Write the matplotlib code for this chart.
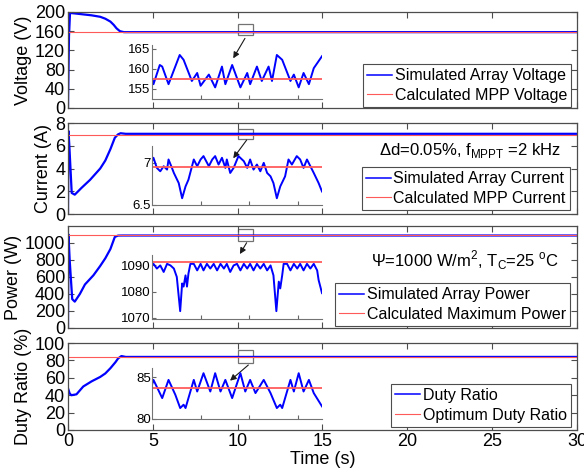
import matplotlib
matplotlib.use("Agg")
import matplotlib.pyplot as plt
from matplotlib.patches import Rectangle

plt.rcParams['font.family'] = ['Liberation Sans', 'DejaVu Sans']
plt.rcParams['mathtext.fontset'] = 'custom'
plt.rcParams['mathtext.rm'] = 'Liberation Sans'

# ---- main traces (time in s) ----
t_volt = [0, 0.06, 0.12, 0.4, 0.9, 1.4, 1.9, 2.2, 2.5, 2.7, 2.86, 3.06, 3.3, 30]
volt = [0, 150, 198, 197, 195, 193, 190, 186, 180, 173, 166, 160, 158, 158]
v_mpp = 157.5

t_curr = [0, 0.03, 0.08, 0.22, 0.4, 0.8, 1.3, 1.9, 2.2, 2.5, 2.76, 2.95, 3.1, 3.4, 30]
curr = [0, 7.3, 6.0, 1.85, 1.7, 2.3, 3.0, 4.0, 4.7, 5.7, 6.7, 7.0, 7.1, 7.05, 7.05]
i_mpp = 6.95

t_pow = [0, 0.03, 0.1, 0.25, 0.4, 0.7, 1.0, 1.5, 1.9, 2.2, 2.5, 2.76, 2.95, 3.2, 30]
pow_ = [0, 1100, 800, 340, 310, 400, 512, 620, 730, 820, 929, 1071, 1087, 1088, 1088]
p_max = 1091.5

t_duty = [0, 0.1, 0.2, 0.5, 0.9, 1.4, 1.9, 2.2, 2.5, 2.8, 2.96, 3.15, 3.4, 30]
duty = [48, 42, 40, 41, 50, 56, 61, 65, 71, 78, 82.4, 85, 84, 84]
d_opt = 83.7

# ---- zoomed windows (time in s from window start) ----
ins_t_v = [0.000, 0.003, 0.016, 0.021, 0.034, 0.057, 0.065, 0.082, 0.093, 0.100, 0.117,
           0.130, 0.144, 0.151, 0.165, 0.182, 0.196, 0.202, 0.216, 0.226, 0.240, 0.247,
           0.257, 0.268, 0.285, 0.292, 0.302, 0.312, 0.323, 0.333, 0.350]
ins_v = [157.8, 156.2, 161.0, 160.6, 156.2, 163.5, 162.3, 157.0, 159.0, 155.8, 158.6,
         155.4, 160.6, 156.2, 161.0, 155.4, 159.0, 156.2, 160.6, 157.0, 160.6, 157.0,
         163.5, 162.3, 157.0, 158.6, 155.4, 159.0, 156.2, 160.2, 163.2]

ins_t_i = [0.000, 0.003, 0.010, 0.017, 0.024, 0.031, 0.034, 0.041, 0.045, 0.055, 0.062,
           0.069, 0.075, 0.086, 0.093, 0.100, 0.106, 0.117, 0.124, 0.130, 0.137, 0.144,
           0.151, 0.154, 0.161, 0.168, 0.178, 0.189, 0.196, 0.202, 0.209, 0.216, 0.223,
           0.230, 0.237, 0.244, 0.250, 0.257, 0.264, 0.274, 0.281, 0.288, 0.298, 0.305,
           0.312, 0.319, 0.326, 0.333, 0.343, 0.350]
ins_i = [7.02, 7.06, 6.94, 6.90, 6.96, 6.92, 7.04, 6.94, 6.88, 6.76, 6.58,
         6.72, 6.80, 7.04, 6.96, 7.04, 7.08, 6.96, 7.04, 7.08, 6.98, 7.06,
         6.94, 7.04, 6.88, 6.94, 7.08, 7.02, 6.94, 7.04, 6.92, 6.98, 6.90,
         7.00, 6.88, 6.84, 6.76, 6.58, 6.72, 6.84, 7.04, 6.98, 7.08, 7.04,
         6.94, 7.04, 6.96, 6.88, 6.76, 6.66]

ins_t_p = [0.000, 0.003, 0.010, 0.017, 0.024, 0.031, 0.038, 0.045, 0.051, 0.058, 0.062,
           0.065, 0.069, 0.072, 0.075, 0.079, 0.086, 0.093, 0.100, 0.106, 0.113, 0.120,
           0.127, 0.134, 0.141, 0.148, 0.154, 0.161, 0.168, 0.175, 0.182, 0.189, 0.196,
           0.202, 0.209, 0.216, 0.223, 0.230, 0.237, 0.244, 0.250, 0.256, 0.261, 0.264,
           0.268, 0.271, 0.278, 0.285, 0.292, 0.299, 0.305, 0.312, 0.319, 0.326, 0.333,
           0.340, 0.343, 0.350]
ins_p = [1090.0, 1090.6, 1088.8, 1090.0, 1087.5, 1090.6, 1090.0, 1088.8, 1085.6, 1072.5, 1083.1,
         1081.9, 1086.2, 1081.9, 1086.9, 1090.6, 1090.6, 1088.1, 1090.6, 1088.1, 1090.6, 1088.8,
         1090.6, 1088.1, 1090.6, 1088.8, 1090.6, 1087.5, 1090.0, 1090.6, 1088.1, 1090.6, 1088.8,
         1090.6, 1088.1, 1090.6, 1088.8, 1090.6, 1088.1, 1090.0, 1086.2, 1072.5, 1083.8, 1081.2,
         1086.2, 1090.6, 1090.6, 1088.1, 1090.6, 1088.8, 1090.6, 1088.1, 1090.6, 1088.8, 1090.6,
         1088.1, 1084.4, 1079.4]

ins_t_d = [0.000, 0.003, 0.021, 0.034, 0.048, 0.058, 0.065, 0.069, 0.086, 0.093, 0.106,
           0.120, 0.130, 0.141, 0.151, 0.165, 0.182, 0.192, 0.202, 0.213, 0.230, 0.244,
           0.257, 0.264, 0.268, 0.285, 0.292, 0.302, 0.312, 0.323, 0.333, 0.350]
ins_d = [84.09, 84.68, 82.50, 84.68, 82.90, 81.31, 81.71, 81.31, 84.68, 83.29, 85.48,
         83.29, 85.48, 83.29, 84.68, 82.50, 85.48, 83.29, 84.68, 83.10, 84.68, 83.10,
         81.31, 81.71, 81.31, 84.68, 83.29, 85.48, 83.29, 84.68, 83.10, 81.51]

panels = [
    dict(t=t_volt, y=volt, ref=v_mpp, ylim=(0, 200), yticks=range(0, 201, 40), ylabel='Voltage (V)',
         labels=('Simulated Array Voltage', 'Calculated MPP Voltage'),
         pos=[0.1164, 0.7712, 0.8716, 0.2034], leg=(0.988, 0.01),
         it=ins_t_v, iy=ins_v, ipos=[0.2603, 0.7903, 0.2911, 0.1144], iylim=(152.5, 166),
         iyticks=[155, 160, 165], iylabels=['155', '160', '165'],
         box=(10.0, 152, 0.9, 23), arrow=((10.43, 145), (9.74, 103.5)), note=None),
    dict(t=t_curr, y=curr, ref=i_mpp, ylim=(0, 8), yticks=range(0, 9, 2), ylabel='Current (A)',
         labels=('Simulated Array Current', 'Calculated MPP Current'),
         pos=[0.1164, 0.5466, 0.8716, 0.1928], leg=(0.986, 0.044),
         it=ins_t_i, iy=ins_i, ipos=[0.2603, 0.5657, 0.2911, 0.125], iylim=(6.5, 7.2),
         iyticks=[6.5, 7], iylabels=['6.5', '7'],
         box=(10.0, 6.62, 0.9, 0.88), arrow=((10.53, 6.5), (9.74, 4.9)),
         note=('Δd=0.05%, f$_\\mathregular{MPPT}$ =2 kHz', 0.968, 0.648)),
    dict(t=t_pow, y=pow_, ref=p_max, ylim=(0, 1200), yticks=range(0, 1001, 200), ylabel='Power (W)',
         labels=('Simulated Array Power', 'Calculated Maximum Power'),
         pos=[0.1164, 0.3051, 0.8716, 0.2161], leg=(0.986, 0.02),
         it=ins_t_p, iy=ins_p, ipos=[0.2603, 0.3242, 0.2911, 0.1356], iylim=(1069.5, 1094),
         iyticks=[1070, 1080, 1090], iylabels=['1070', '1080', '1090'],
         box=(10.0, 1024, 0.9, 143), arrow=((10.53, 1003), (10.13, 870)),
         note=('Ψ=1000 W/m$^\\mathregular{2}$, T$_\\mathregular{C}$=25 $^\\mathregular{o}$C', 0.966, 0.601)),
    dict(t=t_duty, y=duty, ref=d_opt, ylim=(0, 100), yticks=range(0, 101, 20), ylabel='Duty Ratio (%)',
         labels=('Duty Ratio', 'Optimum Duty Ratio'),
         pos=[0.1164, 0.0890, 0.8716, 0.1843], leg=(0.988, 0.038),
         it=ins_t_d, iy=ins_d, ipos=[0.2603, 0.1123, 0.2911, 0.108], iylim=(80, 86.1),
         iyticks=[80, 85], iylabels=['80', '85'],
         box=(10.0, 77.4, 0.9, 14.6), arrow=((10.63, 74.7), (9.55, 56.7)), note=None),
]

fig = plt.figure(figsize=(5.84, 4.72), dpi=100)
spine_c = '0.3'

for k, p in enumerate(panels):
    ax = fig.add_axes(p['pos'])
    ax.plot(p['t'], p['y'], color='blue', lw=1.6, label=p['labels'][0])
    ax.plot([0, 30], [p['ref'], p['ref']], color='#ff5a5a', lw=0.8, label=p['labels'][1])
    ax.set_xlim(0, 30)
    ax.set_ylim(*p['ylim'])
    ax.set_xticks(range(0, 31, 5))
    ax.set_yticks(list(p['yticks']))
    ax.tick_params(direction='in', length=4, top=True, right=True, labelsize=13,
                   color=spine_c, pad=2)
    for s in ax.spines.values():
        s.set_color(spine_c)
        s.set_linewidth(0.9)
    ax.set_ylabel(p['ylabel'], fontsize=13, labelpad=2)
    if k < 3:
        ax.tick_params(labelbottom=False)
    else:
        ax.set_xlabel('Time (s)', fontsize=13, labelpad=1)
    leg = ax.legend(loc='lower right', bbox_to_anchor=p['leg'], borderaxespad=0,
                    fancybox=False, edgecolor=spine_c, framealpha=1, fontsize=11.5,
                    handlelength=1.6, handletextpad=0.15, borderpad=0.25,
                    labelspacing=0.3)
    leg.get_frame().set_linewidth(0.8)
    leg.get_lines()[0].set_linewidth(1.1)
    if p['note']:
        ax.text(p['note'][1], p['note'][2], p['note'][0], transform=ax.transAxes,
                ha='right', va='baseline', fontsize=12)
    bx = p['box']
    ax.add_patch(Rectangle((bx[0], bx[1]), bx[2], bx[3], fill=False,
                           edgecolor='0.45', lw=0.9))
    (sx, sy), (ex, ey) = p['arrow']
    ax.annotate('', xy=(ex, ey), xytext=(sx, sy),
                arrowprops=dict(arrowstyle='-|>', color='0.1', lw=0.8,
                                mutation_scale=9, shrinkA=0, shrinkB=0))

    ia = fig.add_axes(p['ipos'])
    ia.plot(p['it'], p['iy'], color='blue', lw=1.4)
    ia.plot([0, 0.35], [p['ref'], p['ref']], color='#ff5a5a', lw=1.3)
    ia.set_xlim(0, 0.35)
    ia.set_ylim(*p['iylim'])
    ia.set_xticks([0.1, 0.2, 0.3])
    ia.set_xticklabels([])
    ia.set_yticks(p['iyticks'])
    ia.set_yticklabels(p['iylabels'])
    ia.tick_params(direction='in', length=3, labelsize=9.5, color='0.4', pad=1)
    ia.spines['top'].set_visible(False)
    ia.spines['right'].set_visible(False)
    ia.spines['left'].set_color('0.45')
    ia.spines['bottom'].set_color('0.45')
    ia.patch.set_alpha(0)

fig.savefig('out.png', dpi=100)
